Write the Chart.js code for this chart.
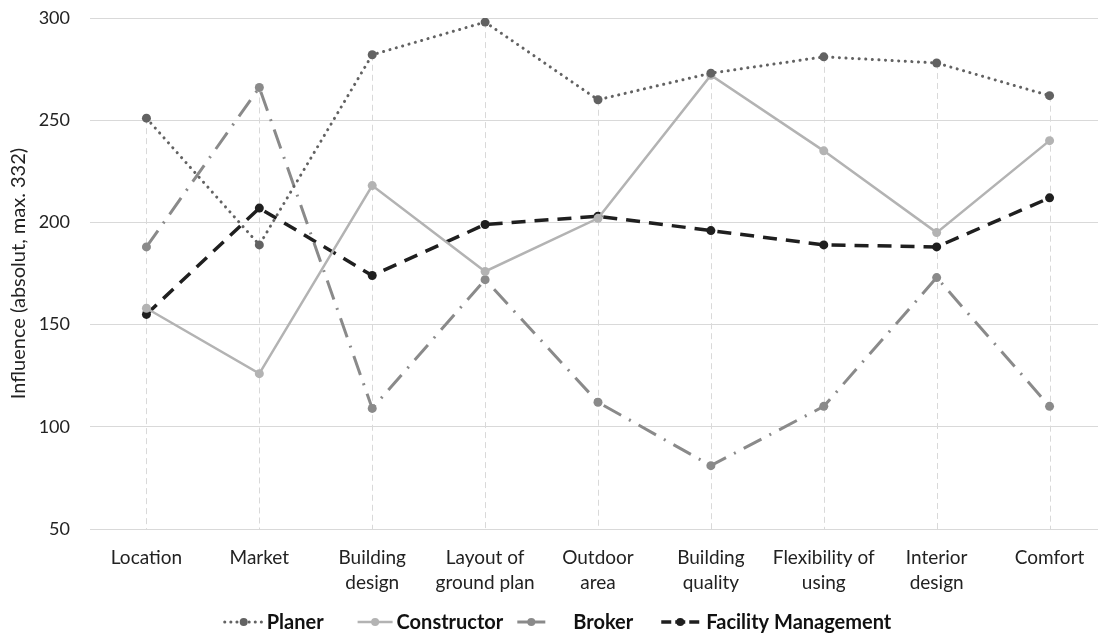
<!DOCTYPE html>
<html>
<head>
<meta charset="utf-8">
<script src="https://cdn.jsdelivr.net/npm/chart.js@4.4.1/dist/chart.umd.min.js"></script>
<style>
  html, body { margin: 0; padding: 0; background: #fff; overflow: hidden; }
  #wrap { width: 1106px; height: 635px; }
</style>
</head>
<body>
<div id="wrap"><canvas id="c" width="1106" height="635"></canvas></div>
<script>
const categories = [
  'Location', 'Market', ['Building', 'design'], ['Layout of', 'ground plan'], ['Outdoor', 'area'],
  ['Building', 'quality'], ['Flexibility of', 'using'], ['Interior', 'design'], 'Comfort'
];
const planer       = [251, 189, 282, 298, 260, 273, 281, 278, 262];
const constructor_ = [158, 126, 218, 176, 202, 272, 235, 195, 240];
const broker       = [188, 266, 109, 172, 112, 81, 110, 173, 110];
const facility     = [155, 207, 174, 199, 203, 196, 189, 188, 212];
const seriesNames  = ['Planer', 'Constructor', 'Broker', 'Facility Management'];
const yTicks = [50, 100, 150, 200, 250, 300];
const yTitle = 'Influence (absolut, max. 332)';

const FONT = 'Lato, Carlito, "Open Sans", sans-serif';

const styles = [
  { data: planer,       color: '#626262', dash: [0.1, 6.5], width: 3,   cap: 'round', legDash: [0.1, 6], iconW: 40, gapBefore: 0,  gapAfter: 3 },
  { data: constructor_, color: '#b3b3b3', dash: [],         width: 2.5, cap: 'butt',  legDash: [],       iconW: 37, gapBefore: 33, gapAfter: 3 },
  { data: broker,       color: '#8a8a8a', dash: [20, 9, 2, 9], width: 3, cap: 'butt', legDash: [],       iconW: 30, gapBefore: 13, gapAfter: 27 },
  { data: facility,     color: '#1f1f1f', dash: [14, 9],    width: 3.5, cap: 'butt',  legDash: [10, 4],  iconW: 40, gapBefore: 27, gapAfter: 6 }
];

const datasets = styles.map((s, i) => ({
  label: seriesNames[i],
  data: s.data,
  borderColor: s.color,
  backgroundColor: s.color,
  pointBackgroundColor: s.color,
  pointBorderColor: s.color,
  borderWidth: s.width,
  borderDash: s.dash,
  borderCapStyle: s.cap,
  pointRadius: 4.5,
  pointBorderWidth: 0,
  tension: 0,
  fill: false
}));

const dropLines = {
  id: 'dropLines',
  beforeDatasetsDraw(chart) {
    const { ctx, scales: { x, y }, chartArea } = chart;
    ctx.save();
    ctx.strokeStyle = '#d9d9d9';
    ctx.lineWidth = 1;
    ctx.setLineDash([6, 4]);
    categories.forEach((_, i) => {
      let m = -Infinity;
      chart.data.datasets.forEach(d => { if (d.data[i] > m) m = d.data[i]; });
      const px = Math.round(x.getPixelForValue(i)) + 0.5;
      ctx.beginPath();
      ctx.moveTo(px, y.getPixelForValue(m));
      ctx.lineTo(px, chartArea.bottom);
      ctx.stroke();
    });
    ctx.restore();
  }
};

const bottomLegend = {
  id: 'bottomLegend',
  afterDraw(chart) {
    const ctx = chart.ctx;
    ctx.save();
    ctx.font = 'bold 20px ' + FONT;
    const widths = chart.data.datasets.map((d, i) => styles[i].gapBefore + styles[i].iconW + styles[i].gapAfter + ctx.measureText(d.label).width);
    const total = widths.reduce((a, b) => a + b, 0);
    let x = 557.5 - total / 2;
    const yc = 622;
    chart.data.datasets.forEach((d, i) => {
      const s = styles[i];
      x += s.gapBefore;
      ctx.strokeStyle = s.color;
      ctx.lineWidth = s.width;
      ctx.lineCap = s.cap;
      ctx.setLineDash(s.legDash);
      ctx.beginPath(); ctx.moveTo(x + 1, yc); ctx.lineTo(x + s.iconW - 1, yc); ctx.stroke();
      ctx.setLineDash([]);
      ctx.fillStyle = s.color;
      ctx.beginPath(); ctx.arc(x + s.iconW / 2, yc, 4, 0, Math.PI * 2); ctx.fill();
      ctx.fillStyle = '#111';
      ctx.textBaseline = 'middle';
      ctx.textAlign = 'left';
      ctx.fillText(d.label, x + s.iconW + s.gapAfter, yc + 1);
      x += widths[i] - s.gapBefore;
    });
    ctx.restore();
  }
};

new Chart(document.getElementById('c'), {
  type: 'line',
  data: { labels: categories, datasets },
  plugins: [dropLines, bottomLegend],
  options: {
    responsive: false,
    animation: false,
    layout: { autoPadding: false, padding: { top: 18, left: 0, right: 0, bottom: 40 } },
    scales: {
      x: {
        offset: true,
        afterFit(scale) { scale.height = 66; scale.paddingTop = 0; scale.paddingBottom = 0; },
        grid: { display: false, drawTicks: false },
        border: { display: false },
        ticks: { color: '#222', font: { family: FONT, size: 19, lineHeight: 1.3 }, padding: 17, maxRotation: 0, autoSkip: false }
      },
      y: {
        min: 50, max: 300,
        afterBuildTicks(scale) { scale.ticks = yTicks.map(v => ({ value: v })); },
        afterFit(scale) { scale.width = 90; scale.paddingTop = 0; scale.paddingBottom = 0; },
        grid: { color: '#d9d9d9', lineWidth: 1, drawTicks: false },
        border: { display: false },
        ticks: { color: '#222', font: { family: FONT, size: 18 }, padding: 20 },
        title: { display: true, text: yTitle, color: '#222', font: { family: FONT, size: 20 }, padding: { top: 7, bottom: 0 } }
      }
    },
    plugins: {
      tooltip: { enabled: false },
      legend: { display: false }
    }
  }
});
</script>
</body>
</html>
